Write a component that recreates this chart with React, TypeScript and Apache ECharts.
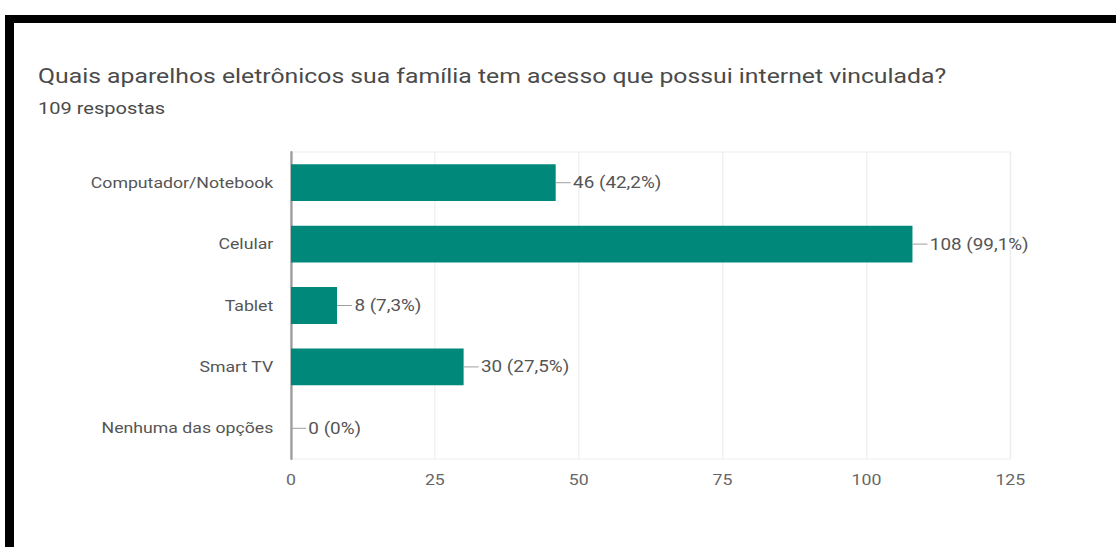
import React, { useEffect, useRef } from "react";
import * as echarts from "echarts";

const categories = [
  "Computador/Notebook",
  "Celular",
  "Tablet",
  "Smart TV",
  "Nenhuma das opções",
];
const counts = [46, 108, 8, 30, 0];
const percents = ["42,2%", "99,1%", "7,3%", "27,5%", "0%"];
const xTicks = [0, 25, 50, 75, 100, 125];
const titleText =
  "Quais aparelhos eletrônicos sua família tem acesso que possui internet vinculada?";
const subtitleText = "109 respostas";

const S = 1.18; // horizontal stretch of the reference
const W = 1116 / S;
const H = 547;
const sx = (v: number) => v / S;

export default function App() {
  const ref = useRef<HTMLDivElement>(null);
  useEffect(() => {
    if (!ref.current) return;
    const chart = echarts.init(ref.current, undefined, { renderer: "svg" });
    const font = "Roboto, Arial, sans-serif";
    chart.setOption({
      animation: false,
      backgroundColor: "#ffffff",
      graphic: [
        {
          type: "rect",
          shape: { x: sx(5), y: 15, width: W, height: 8 },
          style: { fill: "#000" },
          silent: true,
        },
        {
          type: "rect",
          shape: { x: sx(5), y: 15, width: sx(9), height: H },
          style: { fill: "#000" },
          silent: true,
        },
        {
          type: "text",
          x: sx(38),
          y: 76,
          style: {
            text: titleText,
            fontSize: 21,
            fontFamily: font,
            fill: "#4a4a4a",
            verticalAlign: "middle",
          },
        },
        {
          type: "text",
          x: sx(38),
          y: 109,
          style: {
            text: subtitleText,
            fontSize: 17,
            fontFamily: font,
            fill: "#4a4a4a",
            verticalAlign: "middle",
          },
        },
      ],
      grid: {
        left: sx(291),
        right: W - sx(1010),
        top: 152,
        height: 307,
        show: true,
        borderColor: "#eeeeee",
        borderWidth: 1,
      },
      xAxis: {
        type: "value",
        min: 0,
        max: 125,
        interval: 25,
        axisLine: { show: false },
        axisTick: { show: false },
        splitLine: { show: true, lineStyle: { color: "#eeeeee", width: 1 } },
        axisLabel: {
          color: "#666",
          fontSize: 15,
          fontFamily: font,
          margin: 13,
          formatter: (v: number) => (xTicks.includes(v) ? String(v) : ""),
        },
      },
      yAxis: {
        type: "category",
        data: categories,
        inverse: true,
        axisLine: { show: true, lineStyle: { color: "#9e9e9e", width: 2 } },
        axisTick: { show: false },
        axisLabel: {
          color: "#555",
          fontSize: 15,
          fontFamily: font,
          margin: 15,
        },
      },
      series: [
        {
          type: "bar",
          data: counts,
          barCategoryGap: "40%",
          itemStyle: { color: "#00897b" },
          label: {
            show: true,
            position: "right",
            distance: 0,
            formatter: (p: any) =>
              "{l|}{t|" + counts[p.dataIndex] + " (" + percents[p.dataIndex] + ")}",
            rich: {
              l: { width: sx(15), height: 1, backgroundColor: "#9e9e9e" },
              t: {
                color: "#555",
                fontSize: 16,
                fontFamily: font,
                padding: [0, 0, 0, 2],
              },
            },
          },
        },
      ],
    });
    return () => chart.dispose();
  }, []);
  return (
    <div
      ref={ref}
      style={{
        position: "fixed",
        left: 0,
        top: 0,
        width: W + "px",
        height: H + "px",
        transform: `scaleX(${S})`,
        transformOrigin: "0 0",
      }}
    />
  );
}
